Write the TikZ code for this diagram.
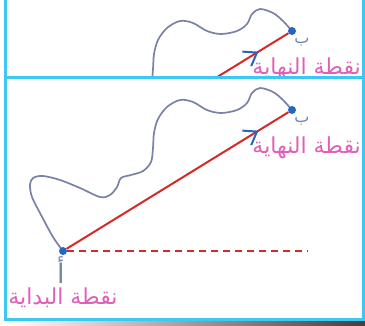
\documentclass[tikz,border=0pt]{standalone}
\usepackage{fontspec}
\newfontfamily\arabicfont[Script=Arabic]{DejaVu Sans}
\TeXXeTstate=1
\usetikzlibrary{arrows.meta,decorations.markings}
\definecolor{frameC}{HTML}{3CC8F0}
\definecolor{curveC}{HTML}{7A82A8}
\definecolor{lineC}{HTML}{D42A2A}
\definecolor{dotC}{HTML}{2466C8}
\definecolor{pinkC}{HTML}{E060B8}
\definecolor{labelC}{HTML}{7088A8}
\tikzset{
  curvepath/.style={draw=curveC, line width=1.7pt, line join=round},
  dotnode/.style={circle, fill=dotC, inner sep=0pt, minimum size=8pt},
  redline/.style={draw=lineC, line width=2pt, postaction={decorate},
    decoration={markings, mark=at position 0.865 with {\arrow{Straight Barb[length=12pt,width=17pt,color=dotC,line width=2pt]}}}},
  dashline/.style={draw=lineC, line width=1.8pt, dash pattern=on 7pt off 5pt},
  ptlabel/.style={text=labelC, inner sep=0pt, font=\arabicfont\fontsize{16}{18}\selectfont},
  alabel/.style={text=labelC, inner sep=0pt, font=\arabicfont\fontsize{27}{30}\selectfont},
  pinklabel/.style={text=pinkC, inner sep=0pt, font=\arabicfont\fontsize{22}{24}\selectfont},
  framepart/.style={draw=frameC, line width=3pt}
}
\newcommand\drawscene[1]{%
  \draw[curvepath] plot[smooth, tension=0.55] coordinates {
    (63,251) (53,237) (40,213) (32,197) (30,185) (33,178) (43,176) (60,180)
    (80,188) (100,197) (110,195) (117,187) (121,178) (131,175) (143,171)
    (151,162) (153,148) (154,133) (158,119) (167,107) (180,100) (193,102)
    (207,110) (221,113) (237,110) (247,103) (252,93) (260,88) (273,92)
    (283,100) (292,110)};
  \node[dotnode] (#1s) at (63,251) {};
  \node[dotnode] (#1e) at (292,110) {};
  \coordinate (#1d) at (308,251);
  \draw[redline] (#1s) -- (#1e);
  \draw[dashline] (#1s.east) -- (#1d);
  \node[ptlabel] (#1b) at (302,121) {\beginR ب\endR};
  \node[alabel] (#1a) at (61,270) {\beginR أ\endR};
  \node[pinklabel, anchor=east] (#1n) at (361,148) {\beginR نقطة النهاية\endR};
  \node[pinklabel] (#1st) at (63,298) {\beginR نقطة البداية\endR};
}
\begin{document}
\begin{tikzpicture}[x=1pt, y=-1pt]
  \useasboundingbox (0,0) rectangle (365,325);
  \fill[white] (0,0) rectangle (365,325);
  \begin{scope}
    \clip (7,0) rectangle (362,76);
    \begin{scope}[shift={(0,-79)}]
      \drawscene{t}
    \end{scope}
  \end{scope}
  \begin{scope}
    \clip (7,79) rectangle (362,318);
    \drawscene{m}
  \end{scope}
  \shade[left color=white, right color=black!75] (6,321) rectangle (365,325);
  \draw[framepart] (5.5,0) -- (5.5,321);
  \draw[framepart] (363,0) -- (363,321);
  \draw[framepart] (5.5,77.5) -- (363,77.5);
  \draw[framepart] (4,319.5) -- (364.5,319.5);
\end{tikzpicture}
\end{document}
